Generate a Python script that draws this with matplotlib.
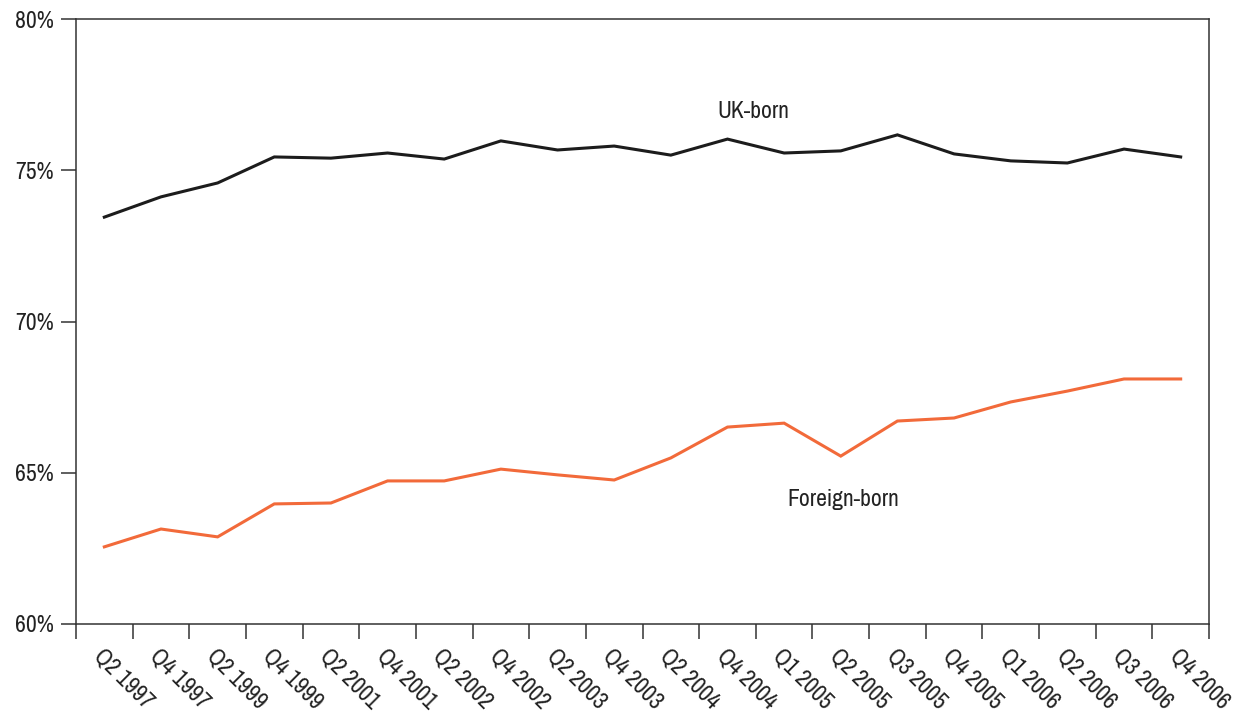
import matplotlib
matplotlib.use("Agg")
import matplotlib.pyplot as plt
from matplotlib.ticker import FixedLocator, PercentFormatter

plt.rcParams['font.family'] = ['Archivo Narrow', 'Roboto Condensed', 'DejaVu Sans']

# Data
quarters = ['Q2 1997', 'Q4 1997', 'Q2 1999', 'Q4 1999', 'Q2 2001', 'Q4 2001',
            'Q2 2002', 'Q4 2002', 'Q2 2003', 'Q4 2003', 'Q2 2004', 'Q4 2004',
            'Q1 2005', 'Q2 2005', 'Q3 2005', 'Q4 2005', 'Q1 2006', 'Q2 2006',
            'Q3 2006', 'Q4 2006']
uk_born = [73.45, 74.12, 74.58, 75.44, 75.40, 75.57, 75.37, 75.97, 75.67, 75.80,
           75.50, 76.03, 75.57, 75.64, 76.17, 75.54, 75.31, 75.24, 75.70, 75.44]
foreign_born = [62.55, 63.14, 62.88, 63.97, 64.00, 64.73, 64.73, 65.12, 64.93, 64.76,
                65.49, 66.51, 66.64, 65.55, 66.71, 66.81, 67.34, 67.70, 68.10, 68.10]
y_ticks = [60, 65, 70, 75, 80]

text_col = '#222222'
spine_col = '#333333'

fig = plt.figure(figsize=(12.41, 7.18), dpi=100)
ax = fig.add_axes([76 / 1241, 1 - 624 / 718, (1209 - 76) / 1241, (624 - 19) / 718])

x = list(range(len(quarters)))
ax.plot(x, uk_born, color='#1c1c1c', lw=2.2, solid_joinstyle='miter')
ax.plot(x, foreign_born, color='#f26a3a', lw=2.2, solid_joinstyle='miter')

ax.set_xlim(-0.5, len(quarters) - 0.5)
ax.set_ylim(60, 80)

ax.set_yticks(y_ticks)
ax.yaxis.set_major_formatter(PercentFormatter(decimals=0))
ax.tick_params(axis='y', length=11, width=1.1, color=spine_col, labelsize=17,
               labelcolor=text_col, pad=5)

ax.set_xticks(x)
ax.set_xticklabels(quarters, rotation=-45, ha='left', va='top', rotation_mode='anchor')
ax.xaxis.set_minor_locator(FixedLocator([i - 0.5 for i in range(len(quarters) + 1)]))
ax.tick_params(axis='x', which='major', length=0, labelsize=17, labelcolor=text_col, pad=15)
ax.tick_params(axis='x', which='minor', length=11, width=1.1, color=spine_col)

for side in ['left', 'right', 'top', 'bottom']:
    ax.spines[side].set_color(spine_col)
    ax.spines[side].set_linewidth(1.1)

ax.text(11.45, 76.95, 'UK-born', ha='center', va='center', fontsize=17, color=text_col)
ax.text(13.05, 64.1, 'Foreign-born', ha='center', va='center', fontsize=17, color=text_col)

fig.savefig('out.png', dpi=100)
